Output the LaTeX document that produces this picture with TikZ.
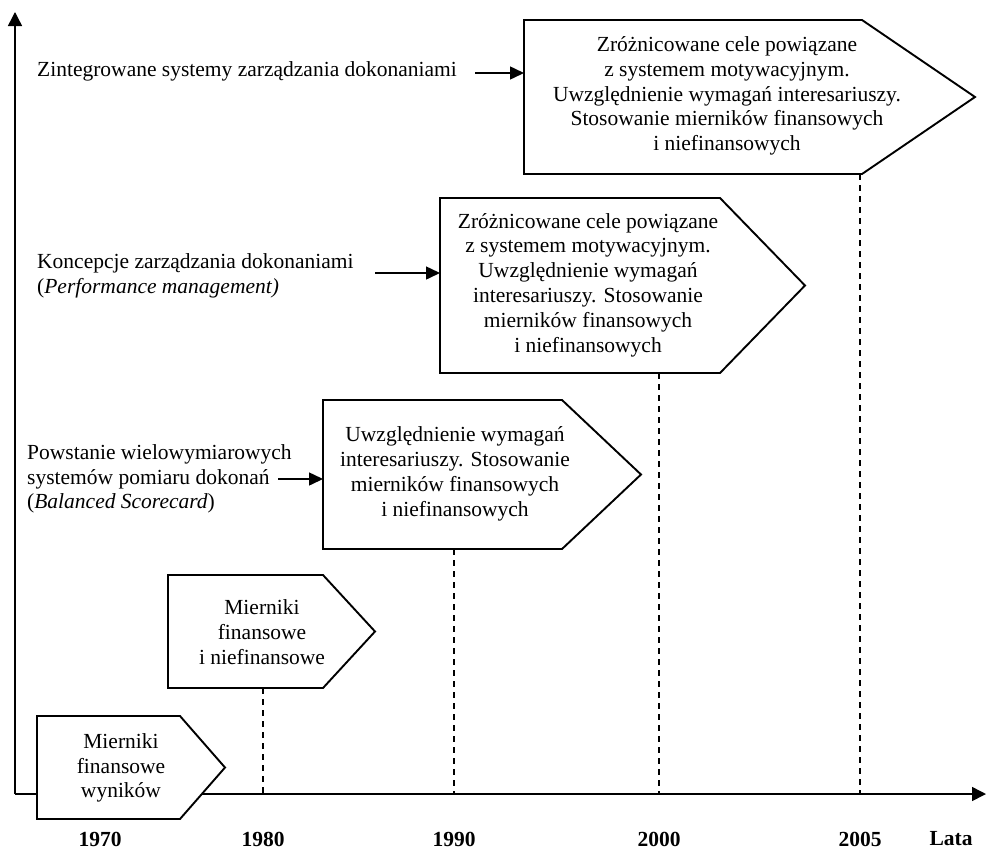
\documentclass[tikz,border=0pt]{standalone}
\usepackage{fontspec}
\setmainfont{Liberation Serif}
\usetikzlibrary{arrows.meta}
\begin{document}
\begin{tikzpicture}[x=1pt,y=-1pt,
  box/.style={draw=black, fill=white, line width=1.9pt, line join=miter},
  txt/.style={align=center, font=\fontsize{21.5}{24.8}\selectfont, inner sep=0pt},
  lbl/.style={align=left, font=\fontsize{21.5}{24.5}\selectfont, inner sep=0pt, anchor=west},
  yr/.style={font=\fontsize{21.5}{24}\selectfont\bfseries, inner sep=0pt},
  axis/.style={line width=1.5pt, -{Triangle[length=14pt,width=14pt]}},
  arr/.style={line width=1.5pt, -{Triangle[length=14pt,width=13pt]}},
  guide/.style={line width=1.5pt, dash pattern=on 6pt off 5pt}
]
\useasboundingbox (0,0) rectangle (987,849);

% axes
\coordinate (O) at (15,794);
\coordinate (Ytop) at (15,12);
\coordinate (Xend) at (986,794);
\draw[axis] (O) -- (Ytop);
\draw[axis] (O) -- (Xend);

% guide lines
\coordinate (g80a) at (263,688);  \coordinate (g80b) at (263,794);
\coordinate (g90a) at (454,549);  \coordinate (g90b) at (454,794);
\coordinate (g00a) at (659,373);  \coordinate (g00b) at (659,794);
\coordinate (g05a) at (860,174);  \coordinate (g05b) at (860,794);
\draw[guide] (g80a) -- (g80b);
\draw[guide] (g90a) -- (g90b);
\draw[guide] (g00a) -- (g00b);
\draw[guide] (g05a) -- (g05b);

% arrow-shaped boxes
\draw[box] (37,716) -- (180,716) -- (225,767.5) -- (180,819) -- (37,819) -- cycle;
\draw[box] (168,575) -- (323,575) -- (375,631.5) -- (323,688) -- (168,688) -- cycle;
\draw[box] (323,400) -- (562,400) -- (641,474.5) -- (562,549) -- (323,549) -- cycle;
\draw[box] (440,198) -- (720,198) -- (805,285.5) -- (720,373) -- (440,373) -- cycle;
\draw[box] (524,20) -- (862,20) -- (975,97) -- (862,174) -- (524,174) -- cycle;

% box texts
\node[txt] (t1) at (121,768) {Mierniki\\finansowe\\wyników};
\node[txt] (t2) at (262,632) {Mierniki\\finansowe\\i niefinansowe};
\node[txt] (t3) at (455,474) {Uwzględnienie wymagań\\interesariuszy. Stosowanie\\mierników finansowych\\i niefinansowych};
\node[txt] (t4) at (588,285) {Zróżnicowane cele powiązane\\z systemem motywacyjnym.\\Uwzględnienie wymagań\\interesariuszy. Stosowanie\\mierników finansowych\\i niefinansowych};
\node[txt] (t5) at (727,96) {Zróżnicowane cele powiązane\\z systemem motywacyjnym.\\Uwzględnienie wymagań interesariuszy.\\Stosowanie mierników finansowych\\i niefinansowych};

% left labels
\node[lbl] (l5) at (37,71) {Zintegrowane systemy zarządzania dokonaniami};
\node[lbl] (l4) at (37,276) {Koncepcje zarządzania dokonaniami\\(\textit{Performance management)}};
\node[lbl] (l3) at (27,479) {Powstanie wielowymiarowych\\systemów pomiaru dokonań\\(\textit{Balanced Scorecard})};

% connectors
\coordinate (a5s) at (475,73);  \coordinate (a5e) at (524,73);
\coordinate (a4s) at (375,273); \coordinate (a4e) at (440,273);
\coordinate (a3s) at (278,479); \coordinate (a3e) at (323,479);
\draw[arr] (a5s) -- (a5e);
\draw[arr] (a4s) -- (a4e);
\draw[arr] (a3s) -- (a3e);

% year labels
\node[yr] (y70) at (100,839) {1970};
\node[yr] (y80) at (263,839) {1980};
\node[yr] (y90) at (454,839) {1990};
\node[yr] (y00) at (659,839) {2000};
\node[yr] (y05) at (860,839) {2005};
\node[yr] (ylata) at (951,839) {Lata};
\end{tikzpicture}
\end{document}
